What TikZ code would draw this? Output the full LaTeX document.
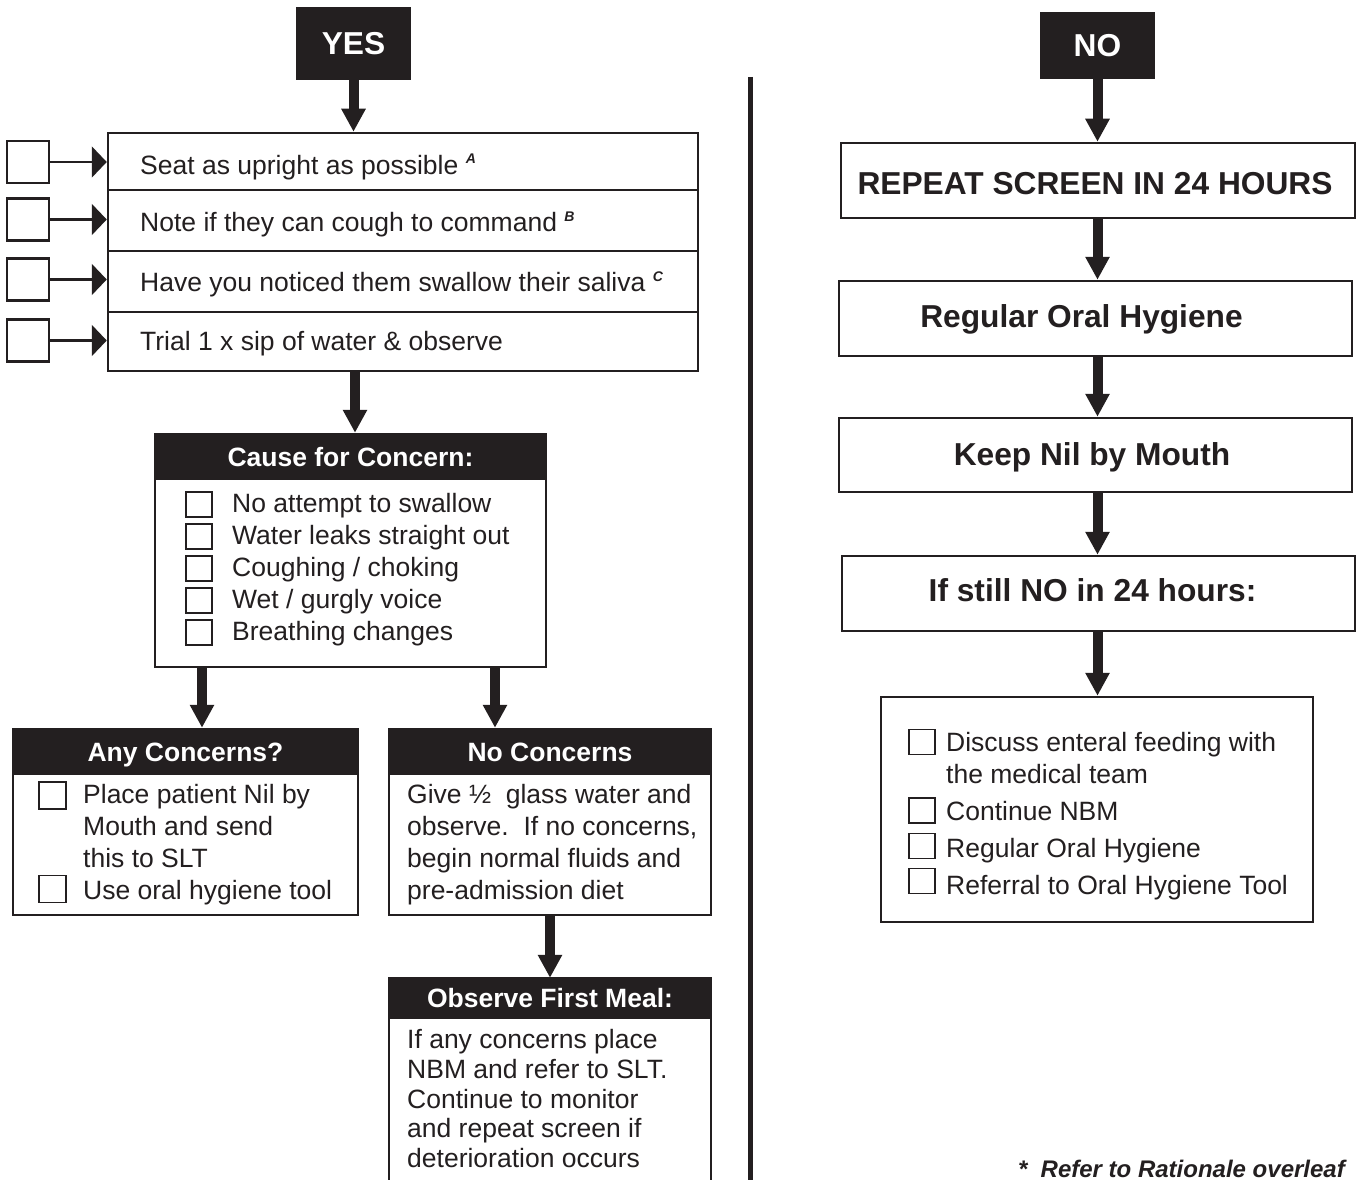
\documentclass[tikz,border=0pt]{standalone}
\usepackage{fontspec}
\setmainfont{Liberation Sans}
\usetikzlibrary{arrows.meta}
\definecolor{ink}{HTML}{231F20}
\newcommand\bodyfnt{\fontsize{26.5}{32}\selectfont}
\newcommand\bigfnt{\fontsize{31.7}{38}\selectfont\bfseries}
\newcommand\hdrfnt{\fontsize{26.5}{32}\selectfont\bfseries}
\newcommand\mysup[1]{\raisebox{10pt}{\fontsize{14}{14}\selectfont\bfseries\itshape #1}}
\tikzset{
 box/.style={draw=ink, line width=2.5pt, inner sep=0pt},
 nobox/.style={inner sep=0pt},
 blk/.style={fill=ink, draw=ink, line width=2.5pt, inner sep=0pt},
 wtxt/.style={anchor=base, inner sep=0pt, text=white},
 btxt/.style={anchor=base, inner sep=0pt, text=ink, font=\bigfnt},
 txt/.style={anchor=base west, inner sep=0pt, text=ink, font=\bodyfnt},
 chk/.style={draw=ink, line width=1.4pt, inner sep=0pt, minimum width=26pt, minimum height=25pt},
 bigarr/.style={draw=ink, line width=10pt, -{Triangle[length=23pt,width=23pt]}},
 smallarr/.style={draw=ink, line width=2.2pt, -{Triangle[length=15pt,width=31pt]}},
 sep/.style={draw=ink, line width=1.8pt},
}
\begin{document}
\begin{tikzpicture}[x=1pt,y=-1pt]
\useasboundingbox[fill=white] (0,0) rectangle (1362,1180);

% ---------- divider ----------
\draw[ink, line width=5pt] (750.5,77) -- (750.5,1180);

% ---------- YES side ----------
\node[blk, minimum width=113pt, minimum height=71pt] (yes) at (353.5,43.5) {};
\node[wtxt, font=\bigfnt] (yest) at (353.5,54.5) {YES};

\node[box, minimum width=590pt, minimum height=238pt] (main) at (403,252) {};
\node[nobox, minimum width=590pt, minimum height=57pt] (r1) at (403,161.5) {};
\node[nobox, minimum width=590pt, minimum height=61pt] (r2) at (403,220.5) {};
\node[nobox, minimum width=590pt, minimum height=61pt] (r3) at (403,281.5) {};
\node[nobox, minimum width=590pt, minimum height=59pt] (r4) at (403,341.5) {};
\draw[sep] (r1.south west) -- (r1.south east);
\draw[sep] (r2.south west) -- (r2.south east);
\draw[sep] (r3.south west) -- (r3.south east);
\node[txt] (t1) at (140,174) {Seat as upright as possible \mysup{A}};
\node[txt] (t2) at (140,231) {Note if they can cough to command \mysup{B}};
\node[txt] (t3) at (140,291) {Have you noticed them swallow their saliva \mysup{C}};
\node[txt] (t4) at (140,350) {Trial 1 x sip of water \& observe};

\node[box, minimum size=42pt] (s1) at (28,162) {};
\node[box, minimum size=42pt] (s2) at (28,219.5) {};
\node[box, minimum size=42pt] (s3) at (28,279.5) {};
\node[box, minimum size=42pt] (s4) at (28,340.5) {};
\draw[smallarr] (s1.east) -- (s1.east -| main.west);
\draw[smallarr] (s2.east) -- (s2.east -| main.west);
\draw[smallarr] (s3.east) -- (s3.east -| main.west);
\draw[smallarr] (s4.east) -- (s4.east -| main.west);

\draw[bigarr] (yes.south) -- (yes.south |- main.north);

% Cause for concern
\node[box, minimum width=391pt, minimum height=233pt] (cause) at (350.5,550.5) {};
\node[blk, minimum width=391pt, minimum height=45pt] (causeh) at (350.5,456.5) {};
\node[wtxt, font=\hdrfnt] (causet) at (350.5,466) {Cause for Concern:};
\foreach \t [count=\i] in {No attempt to swallow, Water leaks straight out, Coughing / choking, Wet / gurgly voice, Breathing changes}{
  \node[chk] (cc\i) at (199,{504.5+32*(\i-1)}) {};
  \node[txt] (ct\i) at (232,{512.5+32*(\i-1)}) {\t};
}
\coordinate (m0) at (355,0);
\draw[bigarr] (m0 |- main.south) -- (m0 |- cause.north);

% Any concerns
\node[box, minimum width=345pt, minimum height=186pt] (any) at (185.5,822) {};
\node[blk, minimum width=345pt, minimum height=45pt] (anyh) at (185.5,751.5) {};
\node[wtxt, font=\hdrfnt] (anyt) at (185.5,761.5) {Any Concerns?};
\node[chk, minimum width=27pt, minimum height=27pt] (ac1) at (52.5,795.5) {};
\node[chk, minimum width=27pt, minimum height=27pt] (ac2) at (52.5,889) {};
\node[txt] (a1) at (83,803) {Place patient Nil by};
\node[txt] (a2) at (83,835) {Mouth and send};
\node[txt] (a3) at (83,867) {this to SLT};
\node[txt] (a4) at (83,899) {Use oral hygiene tool};

% No concerns
\node[box, minimum width=322pt, minimum height=186pt] (noc) at (550,822) {};
\node[blk, minimum width=322pt, minimum height=45pt] (noch) at (550,751.5) {};
\node[wtxt, font=\hdrfnt] (noct) at (550,761.5) {No Concerns};
\node[txt] (n1) at (407,803) {Give ½~\ glass water and};
\node[txt] (n2) at (407,835) {observe.~\ If no concerns,};
\node[txt] (n3) at (407,867) {begin normal fluids and};
\node[txt] (n4) at (407,899) {pre-admission diet};

\coordinate (ca) at (202,0);
\coordinate (cn) at (495,0);
\draw[bigarr] (ca |- cause.south) -- (ca |- any.north);
\draw[bigarr] (cn |- cause.south) -- (cn |- noc.north);

% Observe first meal
\node[nobox, minimum width=322pt, minimum height=202pt] (obs) at (550,1079) {};
\draw[ink, line width=2.5pt] (obs.south west) -- (obs.north west) -- (obs.north east) -- (obs.south east);
\node[blk, minimum width=322pt, minimum height=40pt] (obsh) at (550,998) {};
\node[wtxt, font=\hdrfnt] (obst) at (550,1007) {Observe First Meal:};
\node[txt] (o1) at (407,1048) {If any concerns place};
\node[txt] (o2) at (407,1078) {NBM and refer to SLT.};
\node[txt] (o3) at (407,1108) {Continue to monitor};
\node[txt] (o4) at (407,1137) {and repeat screen if};
\node[txt] (o5) at (407,1167) {deterioration occurs};
\draw[bigarr] (noc.south) -- (obs.north);

% ---------- NO side ----------
\node[blk, minimum width=113pt, minimum height=65pt] (no) at (1097.5,45.5) {};
\node[wtxt, font=\bigfnt] (not) at (1097.5,56.5) {NO};

\node[box, minimum width=514pt, minimum height=75pt] (rep) at (1098,180.5) {};
\node[btxt] (rept) at (1095,194.5) {REPEAT SCREEN IN 24 HOURS};
\node[box, minimum width=513pt, minimum height=75pt] (reg) at (1095.5,318.5) {};
\node[btxt] (regt) at (1081.5,327.5) {Regular Oral Hygiene};
\node[box, minimum width=513pt, minimum height=74pt] (keep) at (1095.5,455) {};
\node[btxt] (keept) at (1092,465.5) {Keep Nil by Mouth};
\node[box, minimum width=513pt, minimum height=75pt] (ifno) at (1098.5,593.5) {};
\node[btxt] (ifnot) at (1092.5,601.5) {If still NO in 24 hours:};
\node[box, minimum width=432pt, minimum height=225pt] (list) at (1097,809.5) {};

\draw[bigarr] (no.south) -- (no.south |- rep.north);
\draw[bigarr] (no.south |- rep.south) -- (no.south |- reg.north);
\draw[bigarr] (no.south |- reg.south) -- (no.south |- keep.north);
\draw[bigarr] (no.south |- keep.south) -- (no.south |- ifno.north);
\draw[bigarr] (no.south |- ifno.south) -- (no.south |- list.north);

\node[chk] (lc1) at (922,742) {};
\node[chk] (lc2) at (922,810.5) {};
\node[chk] (lc3) at (922,846) {};
\node[chk] (lc4) at (922,881) {};
\node[txt] (l1) at (946,751) {Discuss enteral feeding with};
\node[txt] (l2) at (946,783) {the medical team};
\node[txt] (l3) at (946,820) {Continue NBM};
\node[txt] (l4) at (946,857) {Regular Oral Hygiene};
\node[txt] (l5) at (946,894) {Referral to Oral Hygiene Tool};

\node[anchor=base east, inner sep=0pt, text=ink, font=\fontsize{24}{28}\selectfont\bfseries\itshape] (foot) at (1345,1177) {*~\ Refer to Rationale overleaf};
\end{tikzpicture}
\end{document}
